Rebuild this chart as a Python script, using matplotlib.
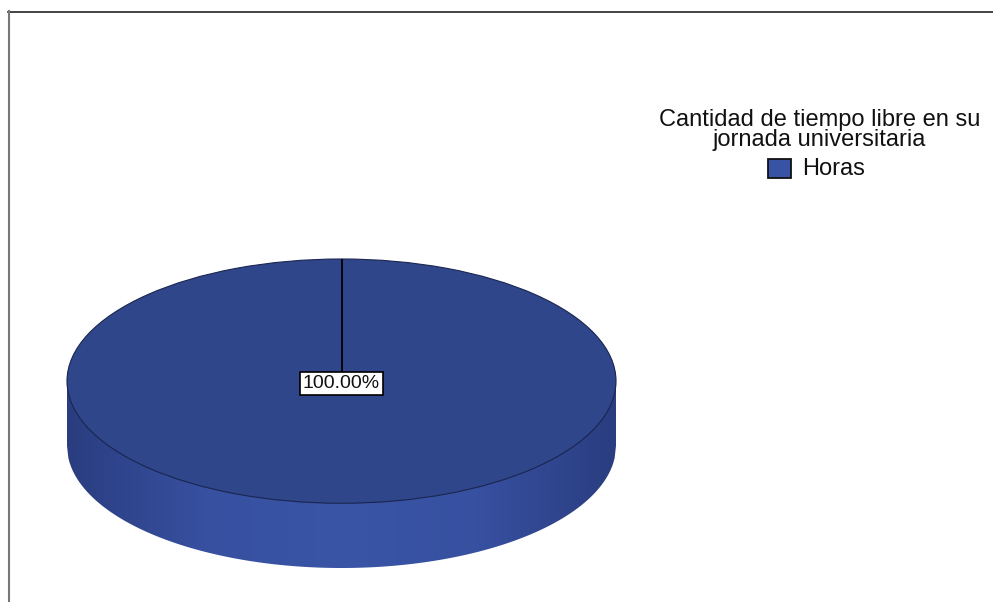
import numpy as np
import matplotlib.pyplot as plt
from matplotlib.patches import Rectangle, Polygon
from matplotlib.lines import Line2D
from matplotlib.colors import LinearSegmentedColormap

# Distribución del tiempo libre
categorias = ['Horas']
porcentajes = [100.0]
titulo_leyenda = 'Cantidad de tiempo libre en su\njornada universitaria'

color_top = '#30468a'
profundidad = 0.53  # grosor del disco en unidades del radio vertical

W, H = 993, 602
fig = plt.figure(figsize=(W / 100, H / 100), dpi=100)

# marco exterior
frame = fig.add_axes([0, 0, 1, 1])
frame.set_xlim(0, W)
frame.set_ylim(H, 0)
frame.axis('off')
frame.add_line(Line2D([8, W], [11.5, 11.5], color='#222222', lw=1.2))
frame.add_line(Line2D([8.5, 8.5], [11, H], color='#777777', lw=1.5))

# eje del pastel (elipse: aspecto libre)
left, right, top, bottom = 67, 616, 259, 568
ax = fig.add_axes([left / W, (H - bottom) / H, (right - left) / W, (bottom - top) / H])

wedges, _ = ax.pie(porcentajes, labels=None, startangle=90, counterclock=False,
                   colors=[color_top], radius=1.0,
                   wedgeprops=dict(edgecolor='#1a2550', linewidth=0.8, zorder=3))
ax.set_aspect('auto')
ax.axis('off')

# pared lateral con degradado horizontal
xs = np.linspace(-1, 1, 400)
lower = -profundidad - np.sqrt(np.clip(1 - xs ** 2, 0, None))
verts = np.column_stack([np.concatenate([xs, xs[::-1]]),
                         np.concatenate([np.zeros_like(xs), lower[::-1]])])
side = Polygon(verts, closed=True, facecolor='none', edgecolor='none')
ax.add_patch(side)
cmap = LinearSegmentedColormap.from_list('lado', ['#2a3d80', '#3750a0', '#3a55a6', '#3750a0', '#2a3d80'])
grad = np.linspace(0, 1, 256).reshape(1, -1)
img = ax.imshow(grad, cmap=cmap, extent=[-1, 1, -1 - profundidad, 0],
                aspect='auto', zorder=1, interpolation='bilinear')
img.set_clip_path(side)
ax.set_xlim(-1, 1)
ax.set_ylim(-1 - profundidad, 1)

# línea de inicio del sector
ax.plot([0, 0], [0, 1], color='black', lw=1.3, zorder=4)

# etiqueta de porcentaje
ax.text(0, -0.02, f'{porcentajes[0]:.2f}%', ha='center', va='center', fontsize=14,
        family='Liberation Sans', zorder=5, color='#111111',
        bbox=dict(boxstyle='square,pad=0.15', facecolor='white', edgecolor='black', lw=1.2))

# leyenda
fig.text(819.5 / W, 1 - 130 / H, titulo_leyenda, ha='center', va='center',
         fontsize=17, family='Liberation Sans', linespacing=0.92, color='#111111')
frame.add_patch(Rectangle((767.5, 158.5), 23, 19, facecolor='#3852a4', edgecolor='#111111', lw=1.3))
frame.text(802, 169, categorias[0], ha='left', va='center', fontsize=17,
           family='Liberation Sans', color='#111111')

fig.savefig('out.png', dpi=100)
